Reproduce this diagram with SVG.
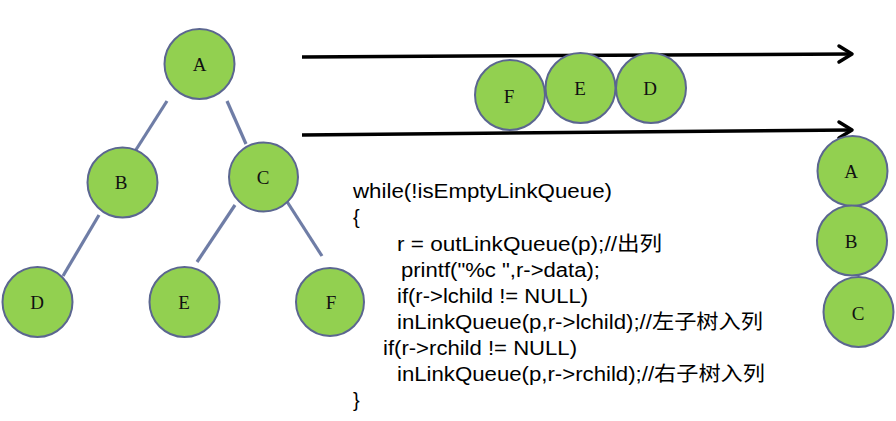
<svg xmlns="http://www.w3.org/2000/svg" width="896" height="421" viewBox="0 0 896 421">
<defs>
<style>
.n circle{fill:#92d050;stroke:#5b6690;stroke-width:2}
.n text{font-family:"Liberation Serif","Times New Roman",serif;font-size:19px;fill:#111;text-anchor:middle}
.e line{stroke:#6f7da6;stroke-width:3.2;stroke-linecap:butt}
.a{stroke:#000;stroke-width:3.5;fill:none}
.ah{stroke:#000;stroke-width:3.5;fill:none;stroke-linecap:round;stroke-linejoin:round}
.code{font-family:"Liberation Sans",Arial,"Noto Sans CJK SC",sans-serif;font-size:20px;fill:#000;white-space:pre}
</style>
</defs>
<rect width="896" height="421" fill="#fff"/>
<g id="connectors" class="e">
<line x1="167" y1="101" x2="132" y2="156"/>
<line x1="227" y1="101" x2="246" y2="144"/>
<line x1="99" y1="215" x2="63" y2="276"/>
<line x1="235" y1="205" x2="197" y2="262"/>
<line x1="286" y1="200" x2="322" y2="256"/>
</g>
<g id="arrows">
<path class="a" d="M302 57 L851 54"/>
<path class="ah" d="M839 46 L852 54 L839 62"/>
<path class="a" d="M302 135 L851 130"/>
<path class="ah" d="M839 122 L852 130 L839 138"/>
</g>
<g id="A" class="n"><circle cx="199.5" cy="64" r="35"/><text x="199.5" y="71">A</text></g>
<g id="B" class="n"><circle cx="122.5" cy="182.5" r="35"/><text x="121" y="189">B</text></g>
<g id="C" class="n"><circle cx="263.5" cy="177" r="34.5"/><text x="263" y="184">C</text></g>
<g id="D" class="n"><circle cx="37.5" cy="302" r="35"/><text x="37" y="309">D</text></g>
<g id="E" class="n"><circle cx="184.5" cy="302" r="35"/><text x="184" y="309">E</text></g>
<g id="F" class="n"><circle cx="330" cy="302" r="34"/><text x="331" y="309">F</text></g>
<g id="qF" class="n"><circle cx="510" cy="95" r="35"/><text x="509" y="103">F</text></g>
<g id="qE" class="n"><circle cx="580.5" cy="88" r="35"/><text x="580" y="95">E</text></g>
<g id="qD" class="n"><circle cx="651" cy="88" r="35"/><text x="650" y="95">D</text></g>
<g id="oA" class="n"><circle cx="852.5" cy="171" r="35"/><text x="851" y="178">A</text></g>
<g id="oB" class="n"><circle cx="852" cy="240.5" r="35"/><text x="851" y="248">B</text></g>
<g id="oC" class="n"><circle cx="858.5" cy="312" r="35"/><text x="858" y="320">C</text></g>
<g id="code" class="code">
<text x="353" y="198" textLength="259" lengthAdjust="spacingAndGlyphs">while(!isEmptyLinkQueue)</text>
<text x="353" y="224">{</text>
<text x="397" y="251" textLength="265" lengthAdjust="spacingAndGlyphs">r  = outLinkQueue(p);//出列</text>
<text x="401" y="277" textLength="199" lengthAdjust="spacingAndGlyphs">printf("%c ",r-&gt;data);</text>
<text x="397" y="303" textLength="191" lengthAdjust="spacingAndGlyphs">if(r-&gt;lchild != NULL)</text>
<text x="397" y="329" textLength="366" lengthAdjust="spacingAndGlyphs">inLinkQueue(p,r-&gt;lchild);//左子树入列</text>
<text x="383" y="355" textLength="194" lengthAdjust="spacingAndGlyphs">if(r-&gt;rchild != NULL)</text>
<text x="397" y="381" textLength="368" lengthAdjust="spacingAndGlyphs">inLinkQueue(p,r-&gt;rchild);//右子树入列</text>
<text x="353" y="407">}</text>
</g>
</svg>
